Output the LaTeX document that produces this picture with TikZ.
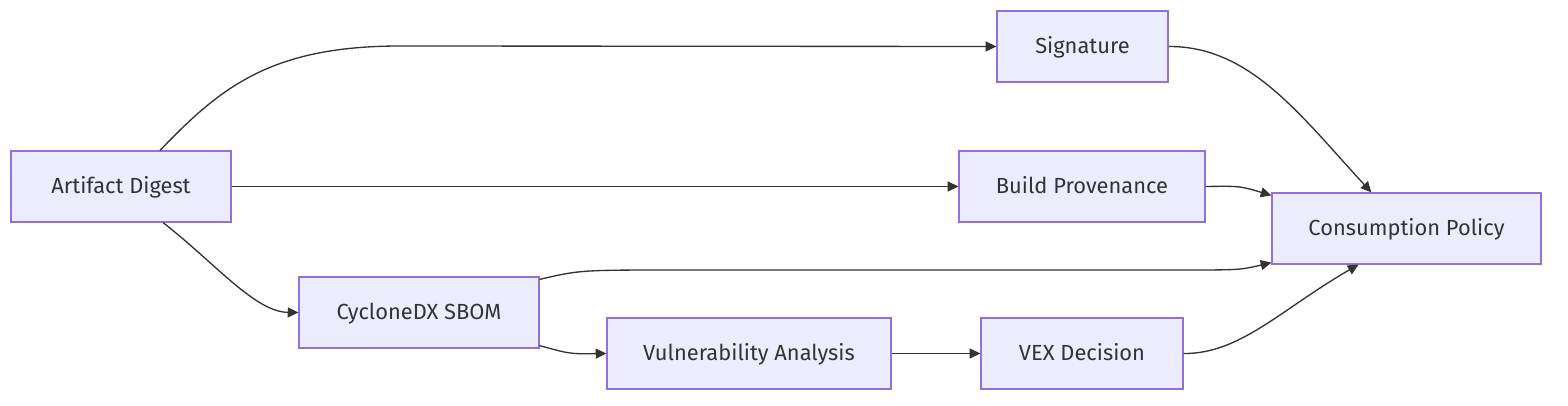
\documentclass[tikz,border=0pt]{standalone}
\usepackage{fontspec}
\setmainfont{Fira Sans}
\usetikzlibrary{arrows.meta,calc}
\definecolor{nodefill}{HTML}{ECECFF}
\definecolor{nodeline}{HTML}{9370DB}
\definecolor{edgecol}{HTML}{333333}
\definecolor{txtcol}{HTML}{333333}
\tikzset{
  box/.style={rectangle, fill=nodefill, draw=nodeline, line width=0.9pt, minimum height=53.25pt, inner sep=0pt, text height=14pt, text depth=2.8pt, font=\fontsize{16.4}{19}\selectfont, text=txtcol},
  link/.style={draw=edgecol, line width=1pt, -{Triangle[length=8pt,width=7.5pt]}}
}
\begin{document}
\begin{tikzpicture}[x=0.75pt,y=-0.75pt]
\useasboundingbox (0,0) rectangle (1568,406);
\node[box, minimum width=165pt] (ad) at (121,186.5) {Artifact Digest};
\node[box, minimum width=128.25pt] (sig) at (1082.5,46.5) {Signature};
\node[box, minimum width=184.5pt] (bp) at (1082,186.5) {Build Provenance};
\node[box, minimum width=201.75pt] (cp) at (1406.5,228.5) {Consumption Policy};
\node[box, minimum width=180pt] (sb) at (419,312.5) {CycloneDX SBOM};
\node[box, minimum width=213pt] (va) at (749,353.5) {Vulnerability Analysis};
\node[box, minimum width=151.5pt] (vex) at (1082,353.5) {VEX Decision};
% edges
\draw[link] ($(ad.north)+(39,0)$) .. controls (220,88) and (270,46) .. (400,46) -- (sig.west);
\draw[link] (ad.east) -- (bp.west);
\draw[link] ($(ad.south)+(42,0)$) .. controls (215,263) and (255,312) .. (sb.west);
\draw[link] (sig.east) .. controls (1250,46) and (1300,115) .. ($(cp.north west)+(100,0)$);
\draw[link] (bp.east) .. controls (1240,186) .. ($(cp.north west)+(0,3)$);
\draw[link] ($(sb.north east)+(0,3)$) .. controls (580,270) .. (680,270) -- (1180,270) .. controls (1240,270) .. ($(cp.south west)+(0,-2)$);
\draw[link] ($(sb.south east)+(0,-3)$) .. controls (570,354) .. (va.west);
\draw[link] (va.east) -- (vex.west);
\draw[link] (vex.east) .. controls (1240,354) and (1280,310) .. ($(cp.south)+(-48,0)$);
\end{tikzpicture}
\end{document}
